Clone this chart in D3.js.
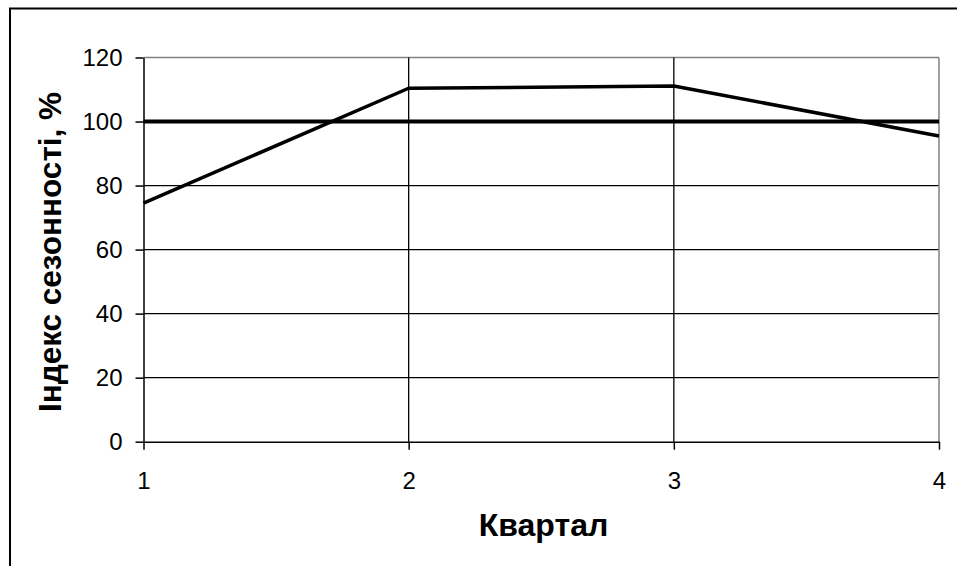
<!DOCTYPE html>
<html><head><meta charset="utf-8">
<script src="https://cdn.jsdelivr.net/npm/d3@7"></script>
<style>body{margin:0;background:#fff}svg{display:block}text{font-family:Arial,"Liberation Sans",sans-serif}</style>
</head><body>
<svg id="c" width="957" height="566"></svg>
<script>
const quarters = [1, 2, 3, 4];
const seasonIndex = [74.5, 110.4, 111.1, 95.5];
const baseline = [100, 100, 100, 100];
const yTicks = [0, 20, 40, 60, 80, 100, 120];
const xTitle = "Квартал";
const yTitle = "Індекс сезонності, %";

const svg = d3.select("#c");
const m = {l: 143.5, r: 939, t: 57.5, b: 441.7};
const x = d3.scaleLinear().domain([1, 4]).range([m.l, m.r]);
const y = d3.scaleLinear().domain([0, 120]).range([m.b, m.t]);

// outer frame
svg.append("rect").attr("x", 10).attr("y", 8.5).attr("width", 1000).attr("height", 600)
  .attr("fill", "none").attr("stroke", "#000").attr("stroke-width", 2);

// horizontal gridlines
svg.append("g").selectAll("line").data(yTicks.filter(d => d > 0)).join("line")
  .attr("x1", m.l).attr("x2", m.r).attr("y1", d => y(d)).attr("y2", d => y(d))
  .attr("stroke", d => d === 120 ? "#808080" : "#000").attr("stroke-width", 1.3);
// vertical gridlines
svg.append("g").selectAll("line").data(quarters.filter(d => d > 1 && d < 4)).join("line")
  .attr("x1", d => x(d)).attr("x2", d => x(d)).attr("y1", m.t).attr("y2", m.b)
  .attr("stroke", "#000").attr("stroke-width", 1.3);
// right border
svg.append("line").attr("x1", m.r).attr("x2", m.r).attr("y1", m.t).attr("y2", m.b)
  .attr("stroke", "#808080").attr("stroke-width", 1.5);

// axes
const yAxis = svg.append("g").attr("transform", `translate(${m.l},0)`)
  .call(d3.axisLeft(y).tickValues(yTicks).tickSize(8).tickPadding(13).tickSizeOuter(0));
const xAxis = svg.append("g").attr("transform", `translate(0,${m.b})`)
  .call(d3.axisBottom(x).tickValues(quarters).tickFormat(d3.format("d")).tickSize(8).tickPadding(22).tickSizeOuter(0));
[yAxis, xAxis].forEach(g => {
  g.attr("font-size", 24).attr("font-family", "Arial, 'Liberation Sans', sans-serif");
  g.select(".domain").attr("stroke", "#000").attr("stroke-width", 1.5);
  g.selectAll(".tick line").attr("stroke", "#000").attr("stroke-width", 1.5);
  g.selectAll(".tick text").attr("fill", "#000");
});

// lines
const line = d3.line().x((d, i) => x(quarters[i])).y(d => y(d));
svg.append("path").datum(baseline).attr("d", line).attr("fill", "none")
  .attr("stroke", "#000").attr("stroke-width", 4);
svg.append("path").datum(seasonIndex).attr("d", line).attr("fill", "none")
  .attr("stroke", "#000").attr("stroke-width", 3.5).attr("stroke-linejoin", "round");

// titles
svg.append("text").attr("x", 543.5).attr("y", 536).attr("text-anchor", "middle")
  .attr("font-size", 32).attr("font-weight", "bold").text(xTitle);
svg.append("text").attr("transform", "translate(61,252) rotate(-90)").attr("text-anchor", "middle")
  .attr("font-size", 31.5).attr("font-weight", "bold").text(yTitle);
</script>
</body></html>
